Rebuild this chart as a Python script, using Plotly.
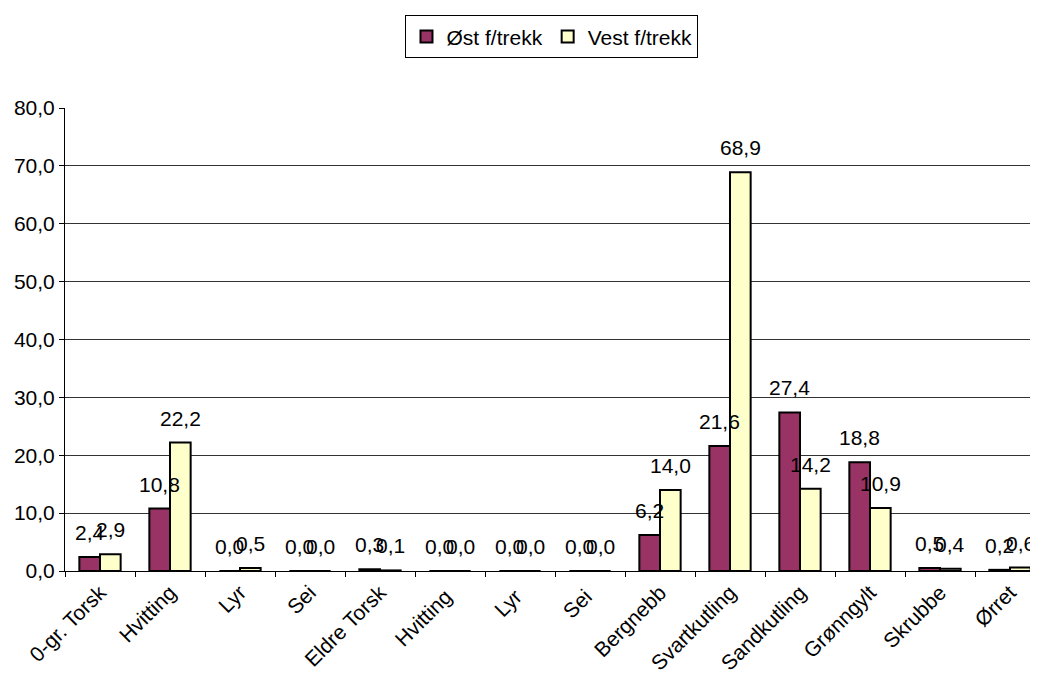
import plotly.graph_objects as go

categories = ["0-gr. Torsk", "Hvitting", "Lyr", "Sei", "Eldre Torsk", "Hvitting ", "Lyr ", "Sei ",
              "Bergnebb", "Svartkutling", "Sandkutling", "Grønngylt", "Skrubbe", "Ørret"]
ost = [2.4, 10.8, 0.0, 0.0, 0.3, 0.0, 0.0, 0.0, 6.2, 21.6, 27.4, 18.8, 0.5, 0.2]
vest = [2.9, 22.2, 0.5, 0.0, 0.1, 0.0, 0.0, 0.0, 14.0, 68.9, 14.2, 10.9, 0.4, 0.6]
series_names = ["Øst f/trekk", "Vest f/trekk"]
series_colors = ["#993366", "#FFFFCC"]

FONT = "Liberation Sans, Arial, sans-serif"
FS = 21

fig = go.Figure()
for name, vals, col in zip(series_names, [ost, vest], series_colors):
    fig.add_trace(go.Bar(
        x=categories, y=vals, name=name,
        marker=dict(color=col, line=dict(color="black", width=2)),
    ))

# data labels (Excel-style, lifted above bar tops)
annotations = []
bar_px = 20.6
for k, vals in enumerate([ost, vest]):
    shift = (-0.5 + k) * bar_px
    for c, v in zip(categories, vals):
        annotations.append(dict(
            x=c, y=v, xref="x", yref="y", text=f"{v:.1f}".replace(".", ","),
            showarrow=False, xshift=shift, yshift=11, yanchor="bottom",
            font=dict(family=FONT, size=FS, color="black"),
        ))

fig.update_layout(
    width=1030, height=681,
    margin=dict(l=57, r=0, t=100, b=118, autoexpand=False),
    paper_bgcolor="white", plot_bgcolor="white",
    separators=",.",
    barmode="group", bargap=0.41, bargroupgap=0,
    font=dict(family=FONT, size=FS, color="black"),
    annotations=annotations,
    showlegend=True,
    legend=dict(
        orientation="h", x=0.5005, xanchor="center", y=1.2, yanchor="top",
        bordercolor="black", borderwidth=1, bgcolor="white",
        font=dict(family=FONT, size=FS, color="black"),
        itemwidth=30, tracegroupgap=0,
    ),
    xaxis=dict(
        type="category", range=[-0.5, 13.4], automargin=False,
        tickangle=-45, ticks="outside", tickson="boundaries", ticklen=5,
        tickcolor="black", showline=True, linecolor="black", linewidth=1,
        showgrid=False, tickfont=dict(family=FONT, size=FS, color="black"),
    ),
    yaxis=dict(
        range=[0, 80], dtick=10, tickformat=".1f", automargin=False,
        ticks="outside", ticklen=5, tickcolor="black",
        showline=True, linecolor="black", linewidth=1,
        showgrid=True, gridcolor="#333333", gridwidth=1,
        zeroline=False,
        tickfont=dict(family=FONT, size=FS, color="black"),
    ),
)

fig.write_html("out.html")
